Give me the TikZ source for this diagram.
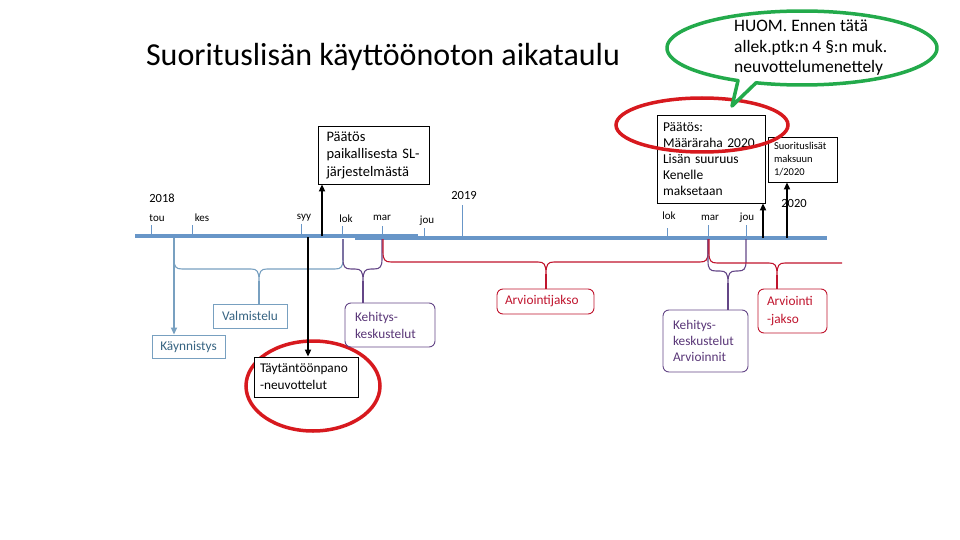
\documentclass[tikz,border=0pt]{standalone}
\usepackage{fontspec}
\setmainfont{Carlito}
\usetikzlibrary{arrows.meta}
\definecolor{tlblue}{RGB}{104,150,200}
\definecolor{brblue}{RGB}{120,160,192}
\definecolor{txblue}{RGB}{55,100,130}
\definecolor{purp}{RGB}{100,70,135}
\definecolor{txpurp}{RGB}{90,55,120}
\definecolor{redb}{RGB}{192,20,45}
\definecolor{redell}{RGB}{215,25,30}
\definecolor{grn}{RGB}{35,170,75}
\newcommand{\tlbrace}[6]{%
  \draw[#1] (#2,#4) -- (#2,#5-10) .. controls (#2,#5-2) and (#2+2,#5) .. (#2+8,#5)
    -- (#6-8,#5) .. controls (#6-2,#5) and (#6,#5+2) .. (#6,#5+12)
    .. controls (#6,#5+2) and (#6+2,#5) .. (#6+8,#5)
    -- (#3-8,#5) .. controls (#3-2,#5) and (#3,#5-2) .. (#3,#5-10) -- (#3,#4);}
\begin{document}
\begin{tikzpicture}[x=1pt,y=-1pt,
  every node/.style={inner sep=0pt},
  tickline/.style={draw=tlblue, line width=0.8pt},
  tlab/.style={font=\fontsize{11}{13}\selectfont},
  ylab/.style={font=\fontsize{12.5}{14}\selectfont},
  sqbox/.style={draw=black, line width=0.8pt, fill=white, align=left, inner ysep=0pt},
  bluebox/.style={draw=brblue, line width=0.9pt, fill=white, align=center, inner ysep=0pt, text=txblue, font=\fontsize{13.3}{16}\selectfont},
  purpbox/.style={draw=purp, line width=0.9pt, fill=white, rounded corners=6pt, align=left, inner ysep=0pt, text=txpurp},
  redbox/.style={draw=redb, line width=0.9pt, fill=white, rounded corners=6pt, align=left, inner ysep=0pt, text=redb},
  blk/.style={draw=black, line width=2.4pt, -{Triangle[length=7pt,width=6pt]}},
  bbr/.style={draw=brblue, line width=1.1pt},
  pbr/.style={draw=purp, line width=1.1pt},
  rbr/.style={draw=redb, line width=1.1pt},
]
\useasboundingbox (0,0) rectangle (960,540);

% title
\node (title) at (383,57) {\fontsize{32}{38}\selectfont Suorituslisän käyttöönoton aikataulu};

% timeline
\draw[tlblue, line width=4pt] (135,236) -- (418,236);
\draw[tlblue, line width=4pt] (355,238) -- (827,238);
\coordinate (tl) at (135,237);

% ticks and labels
\draw[tickline] (151,225) -- (151,236);
\draw[tickline] (192,225) -- (192,236);
\draw[tickline] (301,224) -- (301,236);
\draw[tickline] (342,226) -- (342,236);
\draw[tickline] (382,226) -- (382,237);
\draw[tickline] (424,228) -- (424,238);
\draw[tickline] (462,205) -- (462,238);
\draw[tickline] (667,228) -- (667,238);
\draw[tickline] (708,225) -- (708,238);
\draw[tickline] (746,225) -- (746,238);
\node[tlab] (ltou) at (157,218) {tou};
\node[tlab] (lkes) at (202,218) {kes};
\node[tlab] (lsyy) at (304,218) {syy};
\node[tlab] (llok) at (346,219) {lok};
\node[tlab] (lmar) at (382,218) {mar};
\node[tlab] (ljou) at (427,221) {jou};
\node[tlab] (llok2) at (669,216) {lok};
\node[tlab] (lmar2) at (710,218) {mar};
\node[tlab] (ljou2) at (747,218) {jou};
\node[ylab] (y2018) at (162,198) {2018};
\node[ylab] (y2019) at (464,195) {2019};
\node[ylab] (y2020) at (794,203) {2020};

% red ellipse behind the lower box
\draw[redell, line width=3.5pt] (313,386) ellipse [x radius=67pt, y radius=45pt];

% upper boxes
\node[sqbox, inner xsep=8pt, text width=95pt, minimum height=58pt, font=\fontsize{14.5}{17.5}\selectfont]
  (sl) at (374,155) {Päätös\\paikallisesta SL-\\järjestelmästä};
\node[sqbox, inner xsep=6pt, text width=96pt, minimum height=88pt, font=\fontsize{13.5}{15.8}\selectfont]
  (paatos) at (711,159) {Päätös:\\Määräraha 2020\\Lisän suuruus\\Kenelle\\maksetaan};
\node[sqbox, inner xsep=6pt, text width=57pt, minimum height=45pt, font=\fontsize{10.5}{13}\selectfont]
  (maksu) at (802.5,159.5) {Suorituslisät\\maksuun\\1/2020};

% red ellipse over the upper box
\draw[redell, line width=3.5pt] (702,125) ellipse [x radius=86pt, y radius=27pt];

% lower boxes
\node[bluebox, inner xsep=4pt, text width=66pt, minimum height=24pt] (valm) at (250,316) {Valmistelu};
\node[bluebox, inner xsep=4pt, text width=65pt, minimum height=23pt] (kayn) at (188.5,346.5) {Käynnistys};
\node[purpbox, inner xsep=10pt, text width=70pt, minimum height=44pt, font=\fontsize{13.3}{17}\selectfont]
  (keh1) at (390,325) {Kehitys-\\keskustelut};
\node[sqbox, inner xsep=6pt, text width=92pt, minimum height=40pt, font=\fontsize{13.3}{17}\selectfont]
  (tayt) at (306,377) {Täytäntöönpano\\-neuvottelut};
\node[redbox, inner xsep=8pt, text width=81pt, minimum height=25pt, font=\fontsize{13.3}{16}\selectfont]
  (arv1) at (545.5,301.5) {Arviointijakso};
\node[purpbox, inner xsep=10pt, text width=65pt, minimum height=62pt, font=\fontsize{13.3}{16}\selectfont]
  (keh2) at (705.5,341) {Kehitys-\\keskustelut\\Arvioinnit};
\node[redbox, inner xsep=9pt, text width=51pt, minimum height=44pt, font=\fontsize{13.3}{18}\selectfont]
  (arv2) at (792.5,311) {Arviointi\\-jakso};

% braces
\tlbrace{bbr}{174}{343}{239}{269}{259}
\coordinate (tipb) at (259,281);
\draw[bbr] (tipb) -- (tipb |- valm.north);
\tlbrace{pbr}{343}{382}{239}{269}{363}
\coordinate (tipp1) at (363,281);
\draw[pbr] (tipp1) -- (tipp1 |- keh1.north);
\tlbrace{rbr}{383}{708}{239}{262}{546}
\coordinate (tipr1) at (546,274);
\draw[rbr] (tipr1) -- (tipr1 |- arv1.north);
\tlbrace{pbr}{708}{746}{239}{271}{728}
\coordinate (tipp2) at (728,283);
\draw[pbr] (tipp2) -- (tipp2 |- keh2.north);
\draw[rbr] (709,239) -- (709,253) .. controls (709,261) and (711,263) .. (717,263)
  -- (769,263) .. controls (775,263) and (777,265) .. (777,275)
  .. controls (777,265) and (779,263) .. (785,263) -- (842,263);
\coordinate (tipr2) at (777,275);
\draw[rbr] (tipr2) -- (tipr2 |- arv2.north);

% arrows
\coordinate (a1) at (322,236);
\draw[blk] (a1) -- (a1 |- sl.south);
\coordinate (a2) at (308,237);
\draw[blk] (a2) -- (a2 |- tayt.north);
\coordinate (a3) at (763,238);
\draw[blk] (a3) -- (a3 |- paatos.south);
\coordinate (a4) at (787,238);
\draw[blk] (a4) -- (a4 |- maksu.south);
\coordinate (a5) at (174,238);
\draw[draw=brblue, line width=2pt, -{Triangle[length=7pt,width=6pt]}] (a5) -- (a5 |- kayn.north);

% speech bubble
\draw[grn, line width=3.5pt, fill=white, line join=round]
  plot[domain=-241.7:109.9, samples=150] ({802+135*cos(\x)},{48+37*sin(\x)}) -- (732,106) -- cycle;
\node[align=left, anchor=west, font=\fontsize{17.5}{20.5}\selectfont] (huom) at (734,48)
  {HUOM. Ennen tätä\\allek.ptk:n 4 §:n muk.\\neuvottelumenettely};
\end{tikzpicture}
\end{document}
